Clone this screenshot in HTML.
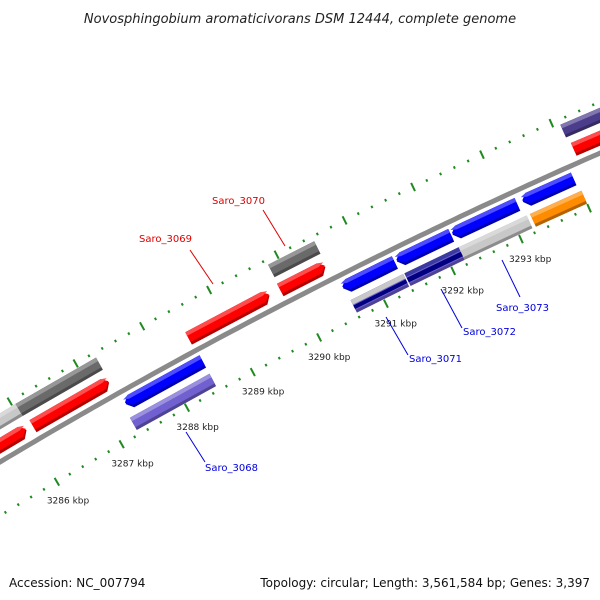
<!DOCTYPE html>
<html><head><meta charset="utf-8"><style>
body{margin:0;background:#fff}
svg{display:block;font-family:"DejaVu Sans","Liberation Sans",sans-serif}
</style></head><body>
<svg id="map" width="600" height="600" viewBox="0 0 600 600" xmlns="http://www.w3.org/2000/svg">
<rect width="600" height="600" fill="#fff"/>
<text x="300" y="23" text-anchor="middle" font-size="13" font-style="italic" fill="#222">Novosphingobium aromaticivorans DSM 12444, complete genome</text>
<g id="ticks"></g>
<g id="backbone"></g>
<g id="genes"></g>
<g id="labels"></g>
<text x="9" y="587" font-size="12" fill="#111">Accession: NC_007794</text>
<text x="590" y="587" text-anchor="end" font-size="12" fill="#111">Topology: circular; Length: 3,561,584 bp; Genes: 3,397</text>
</svg>
<script>
// data (kbp)
const tickLabelsKbp=[3286,3287,3288,3289,3290,3291,3292,3293];
const geneStarts=[3285.0,3286.05,3285.0,3286.1,3288.46,3289.84,3289.83,3294.13,3294.1,3287.31,3290.58,3291.38,3292.2,3293.23,3287.27,3290.6,3291.4,3292.2,3293.25];
const geneEnds  =[3286.05,3287.27,3286.0,3287.26,3289.67,3290.52,3290.5,3296,3296,3288.48,3291.35,3292.18,3293.15,3293.97,3288.48,3291.38,3292.2,3293.2,3294.0];
const geneStrand=[0,0,1,1,1,0,1,1,0,-1,-1,-1,-1,-1,0,0,0,0,0];
const geneRow=["gf","gf","cf","cf","cf","gf","cf","cf","gf","cr","cr","cr","cr","cr","gr","gr","gr","gr","gr"];
const geneColor=["#c8c8c8","#6a6a6a","#ff0000","#ff0000","#ff0000","#6a6a6a","#ff0000","#ff0000","#4b3d8b","#0000ff","#0000ff","#0000ff","#0000ff","#0000ff","#7060d0","#7060d0","#7060d0","#c8c8c8","#ff8c00"];
const labelNames=["Saro_3070","Saro_3069","Saro_3068","Saro_3071","Saro_3072","Saro_3073"];

const NS="http://www.w3.org/2000/svg";
const C=[2739,5046],R=5340,phi0=27.2,dphi=0.81;
function P(k,v){const f=(phi0-(k-3290)*dphi)*Math.PI/180;const r=R+v;return [C[0]-r*Math.sin(f),C[1]-r*Math.cos(f)];}
function mk(tag,attrs,parent){const e=document.createElementNS(NS,tag);for(const a in attrs)e.setAttribute(a,attrs[a]);parent.appendChild(e);return e;}
const rows={gf:[28,42],cf:[7,21],cr:[-20,-6],gr:[-41,-27]};

// backbone
const bb=document.getElementById('backbone');
let d="";for(let k=3284;k<=3297;k+=0.1){const p=P(k,0);d+=(d?"L":"M")+p[0].toFixed(1)+","+p[1].toFixed(1);}
const bl=mk('path',{d:d,stroke:"#8a8a8a","stroke-width":5,fill:"none"},bb);



// ticks
const tg=document.getElementById('ticks');
[47,-46].forEach(function(v,ri){
 for(let i=0;i<=60;i++){const k=3284+i*0.2;const major=Math.abs(k-Math.round(k))<0.01;
  const h=major?4.5:1.3;const a=P(k,v-h),b=P(k,v+h);
  const t=mk('line',{x1:a[0],y1:a[1],x2:b[0],y2:b[1],stroke:"#1f8a1f","stroke-width":2},tg);
  
  }
});
tickLabelsKbp.forEach(function(k){const p=P(k,-68);
 const t=mk('text',{x:p[0],y:p[1]+3,"text-anchor":"middle","font-size":"9",fill:"#222"},tg);
 t.textContent=k+" kbp";
 
 });

// genes
const gg=document.getElementById('genes');
function poly(pts,fill,parent){return mk('polygon',{points:pts.map(p=>p[0].toFixed(1)+","+p[1].toFixed(1)).join(" "),fill:fill},parent);}
function shape(k1,k2,v1,v2,s){const tip=0.08,vm=(v1+v2)/2;
 if(s===1)return [P(k1,v1),P(k2-tip,v1),P(k2,vm),P(k2-tip,v2),P(k1,v2)];
 if(s===-1)return [P(k1+tip,v1),P(k2,v1),P(k2,v2),P(k1+tip,v2),P(k1,vm)];
 return [P(k1,v1),P(k2,v1),P(k2,v2),P(k1,v2)];}
function shade(c,f){const n=parseInt(c.slice(1),16);let r=n>>16,g=(n>>8)&255,b=n&255;
 const m=x=>Math.max(0,Math.min(255,Math.round(f>0?x+(255-x)*f:x*(1+f))));return "rgb("+m(r)+","+m(g)+","+m(b)+")";}
for(let i=0;i<geneStarts.length;i++){
 const r=rows[geneRow[i]];const v1=r[0],v2=r[1];const c=geneColor[i];const s=geneStrand[i];
 const g=mk('g',{},gg);
 
 
 poly(shape(geneStarts[i],geneEnds[i],v1,v2,s),shade(c,-0.3),g);
 poly(shape(geneStarts[i],geneEnds[i],v1+3,v2,s),c,g);
 poly(shape(geneStarts[i],geneEnds[i],v2-4,v2,s),shade(c,0.3),g);
}
// composite overlay bands in lower gene row
const ov=[[3290.6,3291.38,-37,-33,"#000080"],[3290.6,3291.38,-32,-27,"#c8c8c8"],[3291.4,3292.2,-37,-32,"#000080"],[3291.4,3292.2,-31,-27,"#3a3aa0"]];
ov.forEach(function(o){const p=poly(shape(o[0],o[1],o[2],o[3],0),o[4],gg);
 
 });

// labels
const lg=document.getElementById('labels');
const L=[[212,204,"#e00000",[263,210,285,246]],[139,242,"#e00000",[190,250,213,284]],[205,471,"#0000e0",[186,432,205,462]],[409,362,"#0000e0",[386,317,408,355]],[463,335,"#0000e0",[441,289,462,328]],[496,311,"#0000e0",[502,260,520,297]]];
L.forEach(function(l,i){
 const ln=mk('line',{x1:l[3][0],y1:l[3][1],x2:l[3][2],y2:l[3][3],stroke:l[2],"stroke-width":1},lg);
 
 
 const t=mk('text',{x:l[0],y:l[1],"font-size":"10",fill:l[2]},lg);
 t.textContent=labelNames[i];
 
 
});
</script>
</body></html>
